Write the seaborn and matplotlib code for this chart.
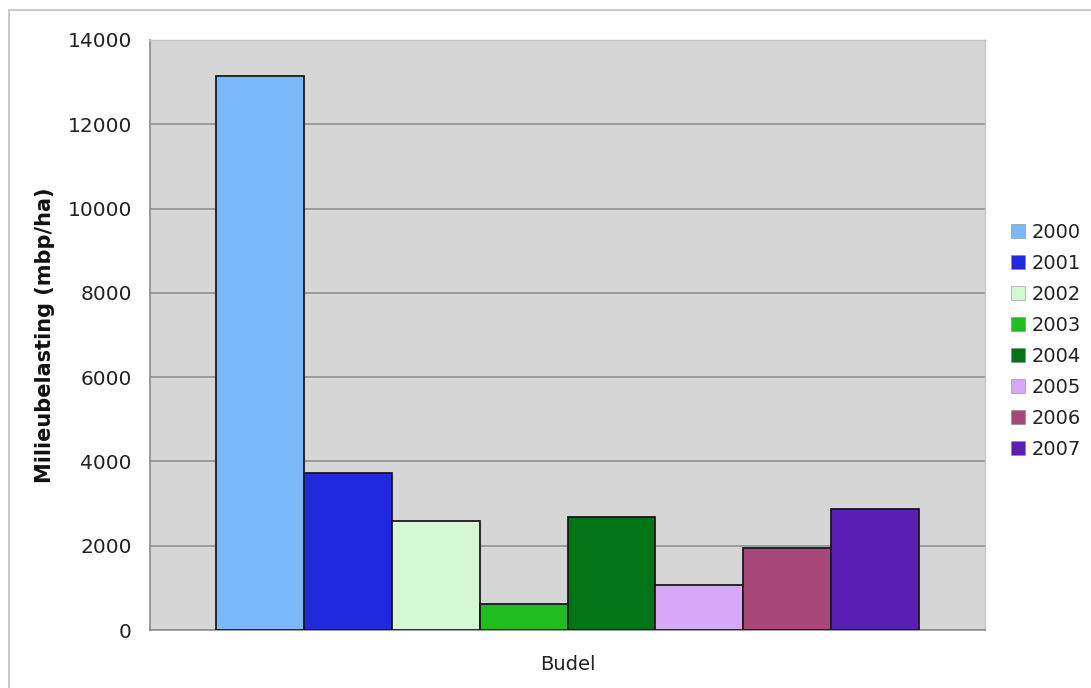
import matplotlib
matplotlib.use("Agg")
import matplotlib.pyplot as plt
from matplotlib.patches import Rectangle
import seaborn as sns
import pandas as pd

# Milieubelasting per jaar, locatie Budel
site = ["Budel"]
years = ["2000", "2001", "2002", "2003", "2004", "2005", "2006", "2007"]
values = [13150, 3730, 2580, 610, 2690, 1060, 1950, 2860]
colors = ["#7ab8fa", "#1e2adc", "#d4f8d4", "#1fbd1f",
          "#027317", "#d7a8f8", "#a84878", "#5a1eb4"]
yticks = [0, 2000, 4000, 6000, 8000, 10000, 12000, 14000]

df = pd.DataFrame({"site": site * len(years), "year": years, "value": values})

sns.set_theme(style="white")
plt.rcParams["font.family"] = ["DejaVu Sans"]

fig = plt.figure(figsize=(10.91, 6.88), dpi=100)
fig.patch.set_facecolor("white")
# light frame around the chart (open to the right and bottom)
fig.patches.append(Rectangle((9 / 1091, -0.02), 1.1, 1 - 10 / 688 + 0.02,
                             transform=fig.transFigure, fill=False,
                             edgecolor="#c8c8c8", linewidth=1.4))

ax = fig.add_axes([150 / 1091, 1 - 630 / 688, (985 - 150) / 1091, (630 - 40) / 688])
ax.set_facecolor("#d6d6d6")

sns.barplot(data=df, x="site", y="value", hue="year", palette=colors,
            width=0.842, saturation=1, edgecolor="#1a1a1a", linewidth=1.3,
            errorbar=None, ax=ax, zorder=3)

ax.set_xlim(-0.5, 0.5)
ax.set_ylim(0, 14000)
ax.set_yticks(yticks)
ax.set_yticklabels([str(t) for t in yticks], fontsize=14.5, color="#222222")
ax.yaxis.grid(True, color="#8c8c8c", linewidth=1.1, zorder=0)
ax.set_axisbelow(True)
ax.tick_params(axis="y", direction="out", length=7, width=1, color="#8c8c8c", pad=6)
ax.tick_params(axis="x", length=0, labelsize=14, labelcolor="#222222", pad=18)

for side in ["top", "right"]:
    ax.spines[side].set_color("#c4c4c4")
    ax.spines[side].set_linewidth(1)
for side in ["left", "bottom"]:
    ax.spines[side].set_color("#8c8c8c")
    ax.spines[side].set_linewidth(1.2)

ax.set_xlabel("")
ax.set_ylabel("Milieubelasting (mbp/ha)", fontsize=15, fontweight="bold",
              color="#111111", labelpad=9)

leg = ax.legend(loc="center left", bbox_to_anchor=(1.022, 0.49), frameon=False,
                fontsize=14, handlelength=0.72, handleheight=0.72,
                handletextpad=0.35, labelspacing=0.62, borderaxespad=0)
for t in leg.get_texts():
    t.set_color("#222222")
for h in leg.legend_handles:
    h.set_linewidth(0.4)
    h.set_edgecolor("#888888")

fig.savefig("out.png", dpi=100)
